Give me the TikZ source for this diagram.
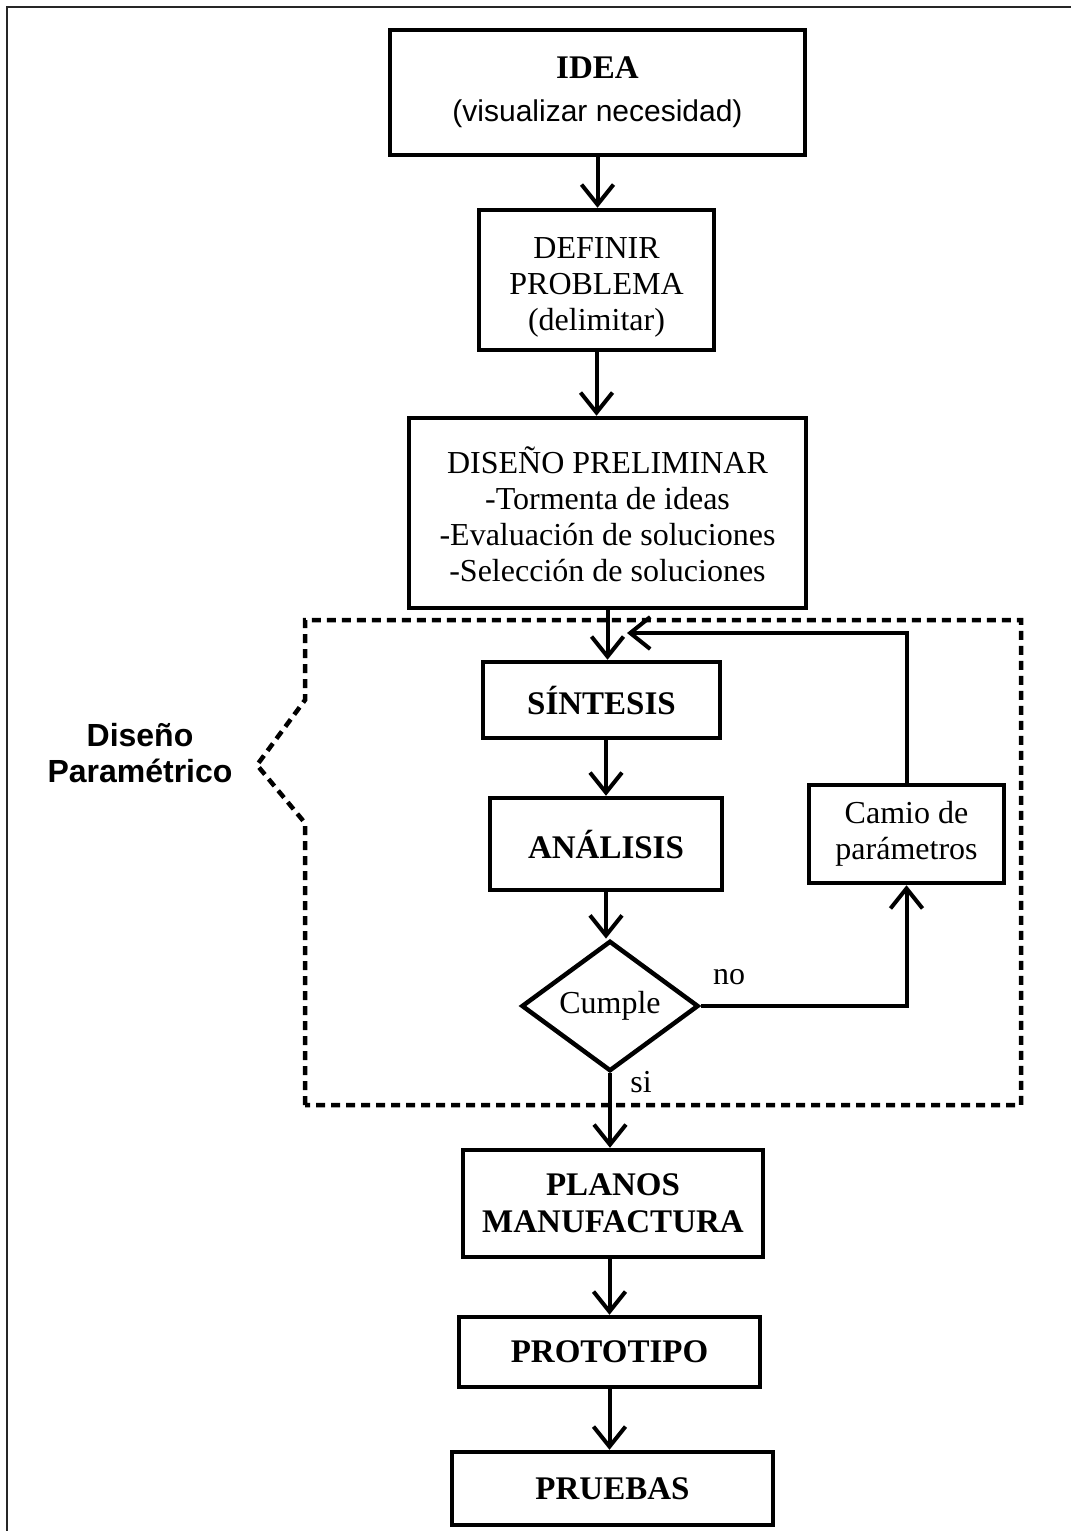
\documentclass[tikz,border=0pt]{standalone}
\usepackage{fontspec}
\setmainfont{Liberation Serif}
\newfontfamily\arialfont{Liberation Sans}
\usepackage{tikz}
\usetikzlibrary{arrows.meta, shapes.geometric}

% texto de varias lineas, bajado un poco dentro de la caja
\newcommand{\bajado}[1]{\raisebox{-7pt}[\height][\depth]{\begin{tabular}{@{}c@{}}#1\end{tabular}}}

\begin{document}
\begin{tikzpicture}[x=1pt, y=-1pt,
    caja/.style={draw, line width=4.5pt, align=center, inner sep=0pt},
    negrita/.style={font=\bfseries\fontsize{33}{37}\selectfont},
    flecha/.style={-{Straight Barb[length=20pt,width=32pt]}, line width=4pt},
    every node/.style={font=\fontsize{32}{36}\selectfont}]
    \useasboundingbox (0,0) rectangle (1071,1531);

    % marco exterior
    \draw[line width=2.5pt, black!85] (7,1531) -- (7,7) -- (1071,7);

    % zona de diseno parametrico (linea discontinua)
    \draw[line width=4.5pt, dash pattern=on 9pt off 6pt]
        (305,1105) -- (305,823) -- (257,765) -- (305,700) -- (305,620)
        -- (1021,620) -- (1021,1105) -- cycle;
    \node[align=center, font=\arialfont\bfseries\fontsize{32}{36}\selectfont] (param) at (140,753) {Diseño\\Paramétrico};

    % cajas
    \node[caja, minimum width=415pt, minimum height=125pt] (idea) at (597.5,92.5)
        {{\bfseries\fontsize{33}{36}\selectfont IDEA}\\[7pt]{\arialfont\fontsize{30}{36}\selectfont (visualizar necesidad)}};
    \node[caja, minimum width=235pt, minimum height=140pt] (definir) at (596.5,280)
        {\bajado{DEFINIR\\PROBLEMA\\(delimitar)}};
    \node[caja, minimum width=397pt, minimum height=190pt] (diseno) at (607.5,513)
        {\bajado{DISEÑO PRELIMINAR\\-Tormenta de ideas\\-Evaluación de soluciones\\-Selección de soluciones}};
    \node[caja, negrita, minimum width=237pt, minimum height=76pt] (sintesis) at (601.5,700) {SÍNTESIS};
    \node[caja, negrita, minimum width=232pt, minimum height=92pt] (analisis) at (606,844) {ANÁLISIS};
    \node[draw, diamond, line width=4.5pt, inner sep=0pt, minimum width=177pt, minimum height=130pt] (cumple) at (610,1006) {Cumple};
    \node[caja, minimum width=195pt, minimum height=98pt] (camio) at (906.5,834) {Camio de\\parámetros};
    \node[caja, negrita, minimum width=300pt, minimum height=107pt] (planos) at (613,1203.5) {PLANOS\\MANUFACTURA};
    \node[caja, negrita, minimum width=301pt, minimum height=70pt] (prototipo) at (609.5,1352) {PROTOTIPO};
    \node[caja, negrita, minimum width=321pt, minimum height=73pt] (pruebas) at (612.5,1488.5) {PRUEBAS};

    % etiquetas
    \node (no) at (729,977) {no};
    \node (si) at (641,1082) {si};
    \coordinate (retorno) at (627,633);

    % flechas
    \draw[flecha] (idea.south) -- (idea.south |- definir.north);
    \draw[flecha] (definir.south) -- (definir.south |- diseno.north);
    \draw[flecha] (diseno.south) -- (diseno.south |- sintesis.north);
    \draw[flecha] (sintesis.south -| analisis.north) -- (analisis.north);
    \draw[flecha] (analisis.south) -- (analisis.south |- cumple.north);
    \draw[flecha] (cumple.east) -| (camio.south);
    \draw[flecha] (camio.north) |- (retorno);
    \draw[flecha] (cumple.south) -- (cumple.south |- planos.north);
    \draw[flecha] (planos.south -| prototipo.north) -- (prototipo.north);
    \draw[flecha] (prototipo.south) -- (prototipo.south |- pruebas.north);
\end{tikzpicture}
\end{document}
